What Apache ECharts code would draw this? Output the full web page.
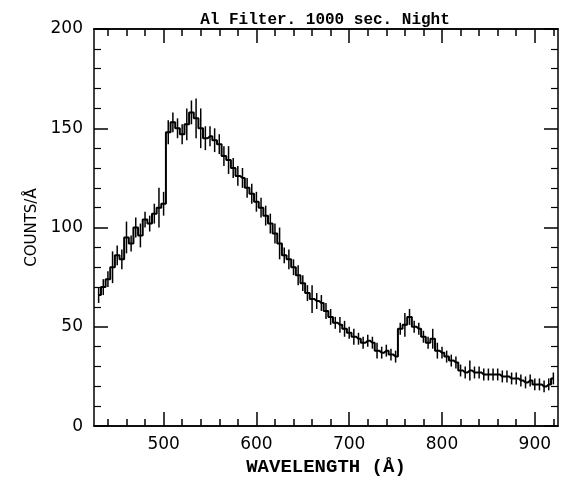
<!DOCTYPE html>
<html>
<head>
<meta charset="utf-8">
<script src="https://cdn.jsdelivr.net/npm/echarts@6/dist/echarts.min.js"></script>
<style>
  html, body { margin: 0; padding: 0; background: #fff; }
  #chart { width: 561px; height: 482px; }
</style>
</head>
<body>
<div id="chart"></div>
<script>
  // bin centres (Å)
  var wavelength = [430, 435, 440, 445, 450, 455, 460, 465, 470, 475, 480, 485, 490, 495,
    500, 505, 510, 515, 520, 525, 530, 535, 540, 545, 550, 555, 560, 565, 570, 575, 580, 585, 590, 595,
    600, 605, 610, 615, 620, 625, 630, 635, 640, 645, 650, 655, 660, 665, 670, 675, 680, 685, 690, 695,
    700, 705, 710, 715, 720, 725, 730, 735, 740, 745, 750, 755, 760, 765, 770, 775, 780, 785, 790, 795,
    800, 805, 810, 815, 820, 825, 830, 835, 840, 845, 850, 855, 860, 865, 870, 875, 880, 885, 890, 895,
    900, 905, 910, 915, 920];
  // counts per Å
  var counts = [66, 70, 74, 80, 86, 84, 95, 92, 100, 96, 104, 102, 107, 110,
    112, 148, 153, 150, 147, 152, 158, 155, 150, 145, 146, 144, 142, 136, 134, 130, 126, 125, 120, 117,
    113, 110, 106, 102, 97, 92, 86, 84, 80, 76, 72, 67, 64, 63, 62, 58, 55, 52, 51, 49,
    47, 45, 44, 42, 43, 42, 38, 37, 38, 36, 35, 49, 51, 55, 50, 49, 45, 42, 44, 38,
    37, 35, 33, 32, 28, 27, 28, 27, 27, 26, 26, 26, 26, 25, 25, 24, 24, 23, 22, 23,
    21, 21, 20, 21, 24];
  // half length of the error bars
  var errs = [4, 4, 4, 8, 5, 5, 8, 4, 5, 6, 4, 4, 5, 10,
    6, 6, 5, 5, 5, 8, 6, 10, 10, 6, 5, 6, 5, 5, 7, 5, 5, 5, 5, 5,
    5, 5, 5, 5, 5, 8, 4, 5, 4, 5, 4, 4, 7, 4, 4, 4, 4, 3, 4, 4,
    3, 4, 3, 3, 3, 3, 4, 3, 3, 3, 3, 3, 6, 4, 3, 3, 3, 3, 5, 4,
    3, 3, 3, 3, 3, 3, 5, 3, 3, 3, 3, 3, 3, 3, 3, 3, 3, 3, 3, 3,
    3, 3, 3, 3, 3];

  var xMajor = [500, 600, 700, 800, 900];
  var xMinor = [440, 460, 480, 520, 540, 560, 580, 620, 640, 660, 680,
    720, 740, 760, 780, 820, 840, 860, 880, 920];

  var lineData = wavelength.map(function (w, i) { return [w, counts[i]]; });
  var errData = wavelength.map(function (w, i) { return [w, counts[i] - errs[i], counts[i] + errs[i]]; });

  var chart = echarts.init(document.getElementById('chart'));

  function xAxisOf(pos, ticks, len, withLabels) {
    return {
      type: 'value',
      position: pos,
      min: 425,
      max: 925,
      axisLine: { show: true, lineStyle: { color: '#000', width: 1.5 } },
      axisTick: { show: true, inside: true, length: len, customValues: ticks,
        lineStyle: { color: '#000', width: 1.5 } },
      axisLabel: withLabels ? {
        show: true, customValues: ticks, margin: 10,
        color: '#000', fontFamily: 'DejaVu Sans', fontSize: 17
      } : { show: false },
      splitLine: { show: false }
    };
  }

  function yAxisOf(pos, withLabels) {
    return {
      type: 'value',
      position: pos,
      min: 0,
      max: 200,
      interval: 50,
      axisLine: { show: true, lineStyle: { color: '#000', width: 1.5 } },
      axisTick: { show: true, inside: true, length: 14, lineStyle: { color: '#000', width: 1.5 } },
      minorTick: { show: true, splitNumber: 5, length: 7, lineStyle: { color: '#000', width: 1.2 } },
      axisLabel: withLabels ? {
        show: true, margin: 11, color: '#000', fontFamily: 'DejaVu Sans', fontSize: 17
      } : { show: false },
      splitLine: { show: false }
    };
  }

  var xBottom = xAxisOf('bottom', xMajor, 14, true);
  xBottom.name = 'WAVELENGTH (Å)';
  xBottom.nameLocation = 'middle';
  xBottom.nameGap = 27;
  xBottom.nameTextStyle = { color: '#000', fontFamily: 'Liberation Mono', fontWeight: 'bold', fontSize: 19 };

  var yLeft = yAxisOf('left', true);
  yLeft.name = 'COUNTS/Å';
  yLeft.nameLocation = 'middle';
  yLeft.nameGap = 52;
  yLeft.nameTextStyle = { color: '#000', fontFamily: 'DejaVu Sans', fontSize: 15 };

  var option = {
    backgroundColor: '#fff',
    animation: false,
    title: {
      text: 'Al Filter. 1000 sec. Night',
      left: 320,
      textAlign: 'center',
      top: 7,
      textStyle: { color: '#000', fontFamily: 'Liberation Mono', fontWeight: 'bold', fontSize: 16 }
    },
    grid: { left: 94, right: 3, top: 29, bottom: 51 },
    xAxis: [
      xBottom,
      xAxisOf('bottom', xMinor, 7, false),
      xAxisOf('top', xMajor, 14, false),
      xAxisOf('top', xMinor, 7, false)
    ],
    yAxis: [yLeft, yAxisOf('right', false)],
    series: [
      {
        type: 'line',
        xAxisIndex: 0,
        yAxisIndex: 0,
        step: 'middle',
        symbol: 'none',
        data: lineData,
        lineStyle: { color: '#000', width: 2 }
      },
      {
        type: 'custom',
        xAxisIndex: 0,
        yAxisIndex: 0,
        data: errData,
        renderItem: function (params, api) {
          var lo = api.coord([api.value(0), api.value(1)]);
          var hi = api.coord([api.value(0), api.value(2)]);
          return {
            type: 'line',
            shape: { x1: lo[0], y1: lo[1], x2: hi[0], y2: hi[1] },
            style: { stroke: '#000', lineWidth: 1.5 }
          };
        }
      }
    ]
  };

  chart.setOption(option);
</script>
</body>
</html>
